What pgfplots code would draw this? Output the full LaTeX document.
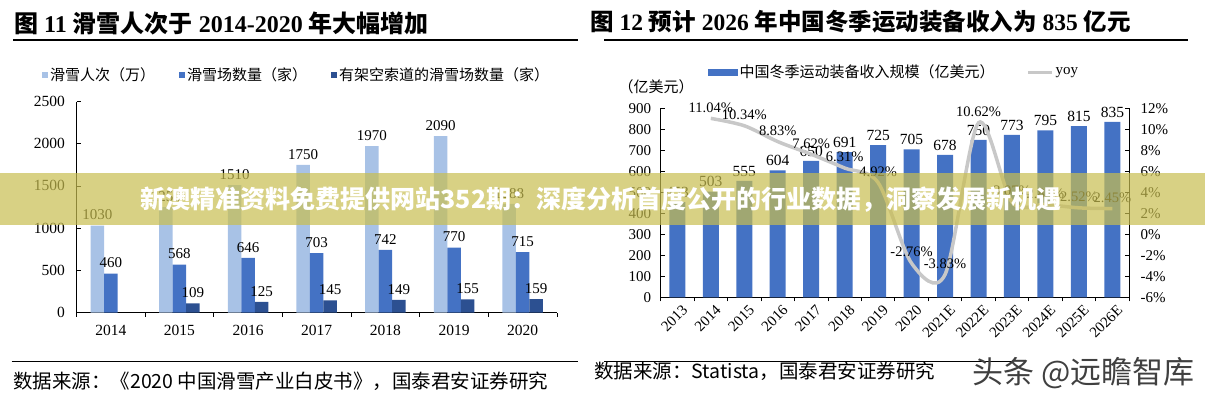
\documentclass[border=0pt]{standalone}
\usepackage{fontspec}
\setmainfont{Liberation Serif}
\newfontfamily\cjk{Noto Sans CJK SC}
\usepackage{pgfplots}
\pgfplotsset{compat=1.18}
\definecolor{lightbar}{RGB}{168,194,230}
\definecolor{midbar}{RGB}{68,114,196}
\definecolor{darkbar}{RGB}{44,80,145}
\definecolor{yoygray}{RGB}{200,200,200}
\definecolor{bannercol}{RGB}{200,190,80}
\newcommand{\fs}[1]{\fontsize{#1}{#1}\selectfont}
\pgfplotsset{
  mybase/.style={
    scale only axis, anchor=south west,
    axis line style={line width=0.9pt, black},
    tick style={line width=0.8pt, black},
    tick align=inside,
    major tick length=4pt, minor tick length=4pt,
    /pgf/number format/assume math mode=true,
    /pgf/number format/1000 sep={},
    scaled y ticks=false,
    clip=false,
  },
}
\begin{document}
\begin{tikzpicture}[x=1pt,y=1pt]
\path[use as bounding box] (0,0) rectangle (1205,400);

% ---------- left panel ----------
\node[anchor=west, inner sep=0pt] at (14,377) {\fs{24}{\cjk\bfseries 图} \textbf{11} {\cjk\bfseries 滑雪人次于} \textbf{2014-2020} {\cjk\bfseries 年大幅增加}};
\draw[line width=1.6pt] (13,360) -- (578,360);

\begin{axis}[mybase, at={(76.5pt,87.5pt)}, width=480.5pt, height=211pt,
  ybar=0pt, bar width=13.5pt,
  xmin=-0.5, xmax=6.5, ymin=0, ymax=2500,
  axis x line*=bottom, axis y line*=left,
  xtick={0,...,6}, xticklabels={2014,2015,2016,2017,2018,2019,2020},
  major x tick style={draw=none},
  minor xtick={-0.5,0.5,...,6.5},
  ytick={0,500,...,2500},
  xticklabel style={font=\fs{15.5}, yshift=-5pt},
  yticklabel style={font=\fs{15.5}, xshift=-8pt},
  nodes near coords,
  every node near coord/.append style={font=\fs{15}, text=black, yshift=2pt},
  legend columns=3,
  legend style={at={(-0.072,1.126)}, anchor=west, draw=none, fill=none, inner sep=0pt, font=\fs{15},
    /tikz/every even column/.append style={column sep=22pt}},
  legend image code/.code={\fill[#1] (0pt,-3pt) rectangle (6pt,3pt);},
]
\addplot[fill=lightbar, draw=none] coordinates {(0,1030)(1,1250)(2,1510)(3,1750)(4,1970)(5,2090)(6,1288)};
\addplot[fill=midbar, draw=none] coordinates {(0,460)(1,568)(2,646)(3,703)(4,742)(5,770)(6,715)};
\addplot[fill=darkbar, draw=none] coordinates {(1,109)(2,125)(3,145)(4,149)(5,155)(6,159)};
\legend{{\cjk 滑雪人次（万）},{\cjk 滑雪场数量（家）},{\cjk 有架空索道的滑雪场数量（家）}}
\end{axis}

\draw[line width=1.3pt] (11.5,38.3) -- (578,38.3);
\node[anchor=west, inner sep=0pt] at (13,18.3) {\fs{19.5}\cjk 数据来源：《2020 中国滑雪产业白皮书》，国泰君安证券研究};

% ---------- right panel ----------
\node[anchor=west, inner sep=0pt] at (590,378) {\fs{23.5}{\cjk\bfseries 图} \textbf{12} {\cjk\bfseries 预计} \textbf{2026} {\cjk\bfseries 年中国冬季运动装备收入为} \textbf{835} {\cjk\bfseries 亿元}};
\draw[line width=1.6pt] (604,360) -- (1188,360);
\node at (656,313) {\fs{15}\cjk （亿美元）};

\begin{axis}[mybase, at={(660.6pt,102.7pt)}, width=468.5pt, height=189pt,
  ybar, bar width=16pt,
  xmin=-0.5, xmax=13.5, ymin=0, ymax=900,
  axis x line*=bottom, axis y line*=left,
  xtick={0,...,13}, xticklabels={2013,2014,2015,2016,2017,2018,2019,2020,2021E,2022E,2023E,2024E,2025E,2026E},
  major x tick style={draw=none},
  minor xtick={-0.5,0.5,...,13.5},
  ytick={0,100,...,900},
  xticklabel style={font=\fs{15}, xshift=10pt, yshift=-4pt, rotate=45, anchor=east},
  yticklabel style={font=\fs{15}, xshift=-6pt},
  nodes near coords,
  every node near coord/.append style={font=\fs{15.5}, text=black, yshift=1pt},
]
\addplot[fill=midbar, draw=none] coordinates {(0,453)(1,503)(2,555)(3,604)(4,650)(5,691)(6,725)(7,705)(8,678)(9,750)(10,773)(11,795)(12,815)(13,835)};
\end{axis}

\begin{axis}[mybase, at={(660.6pt,102.7pt)}, width=468.5pt, height=189pt,
  xmin=-0.5, xmax=13.5, ymin=-6, ymax=12,
  axis x line=none, axis y line*=right,
  ytick={-6,-4,...,12},
  yticklabel={\pgfmathprintnumber{\tick}\%},
  yticklabel style={font=\fs{15}, xshift=8pt},
  legend columns=2,
  legend style={at={(0.101,1.192)}, anchor=west, draw=none, fill=none, inner sep=0pt, font=\fs{15},
    /tikz/every even column/.append style={column sep=30pt}},
]
\addlegendimage{legend image code/.code={\fill[midbar] (0pt,-3pt) rectangle (29pt,3pt);}}
\addlegendentry{{\cjk 中国冬季运动装备收入规模（亿美元）}}
\addplot[yoygray, line width=3.5pt, smooth, mark=none,
  legend image code/.code={\draw[yoygray,line width=3pt] (0pt,0pt) -- (24pt,0pt);},
  nodes near coords={\pgfmathprintnumber[fixed,fixed zerofill,precision=2]{\pgfplotspointmeta}\%},
  every node near coord/.append style={font=\fs{14.5}, text=black, anchor=south, yshift=1pt}]
  coordinates {(1,11.04)(2,10.34)(3,8.83)(4,7.62)(5,6.31)(6,4.92)(7,-2.76)(8,-3.83)(9,10.62)(10,3.07)(11,2.85)(12,2.52)(13,2.45)};
\addlegendentry{yoy}
\end{axis}

\draw[line width=1.3pt] (604,38.3) -- (1013,38.3);
\node[anchor=west, inner sep=0pt] at (594,28.5) {\fs{19.5}\cjk 数据来源：Statista，国泰君安证券研究};
\node[anchor=west, inner sep=0pt, text=black!75] at (972,27) {\fs{31}\cjk 头条 @远瞻智库};

% ---------- overlay banner ----------
\fill[bannercol, opacity=0.7] (0,175) rectangle (1205,227);
\node[text=white] at (601,200.7) {\fs{25}\cjk\bfseries 新澳精准资料免费提供网站352期：深度分析首度公开的行业数据，洞察发展新机遇};
\end{tikzpicture}
\end{document}
